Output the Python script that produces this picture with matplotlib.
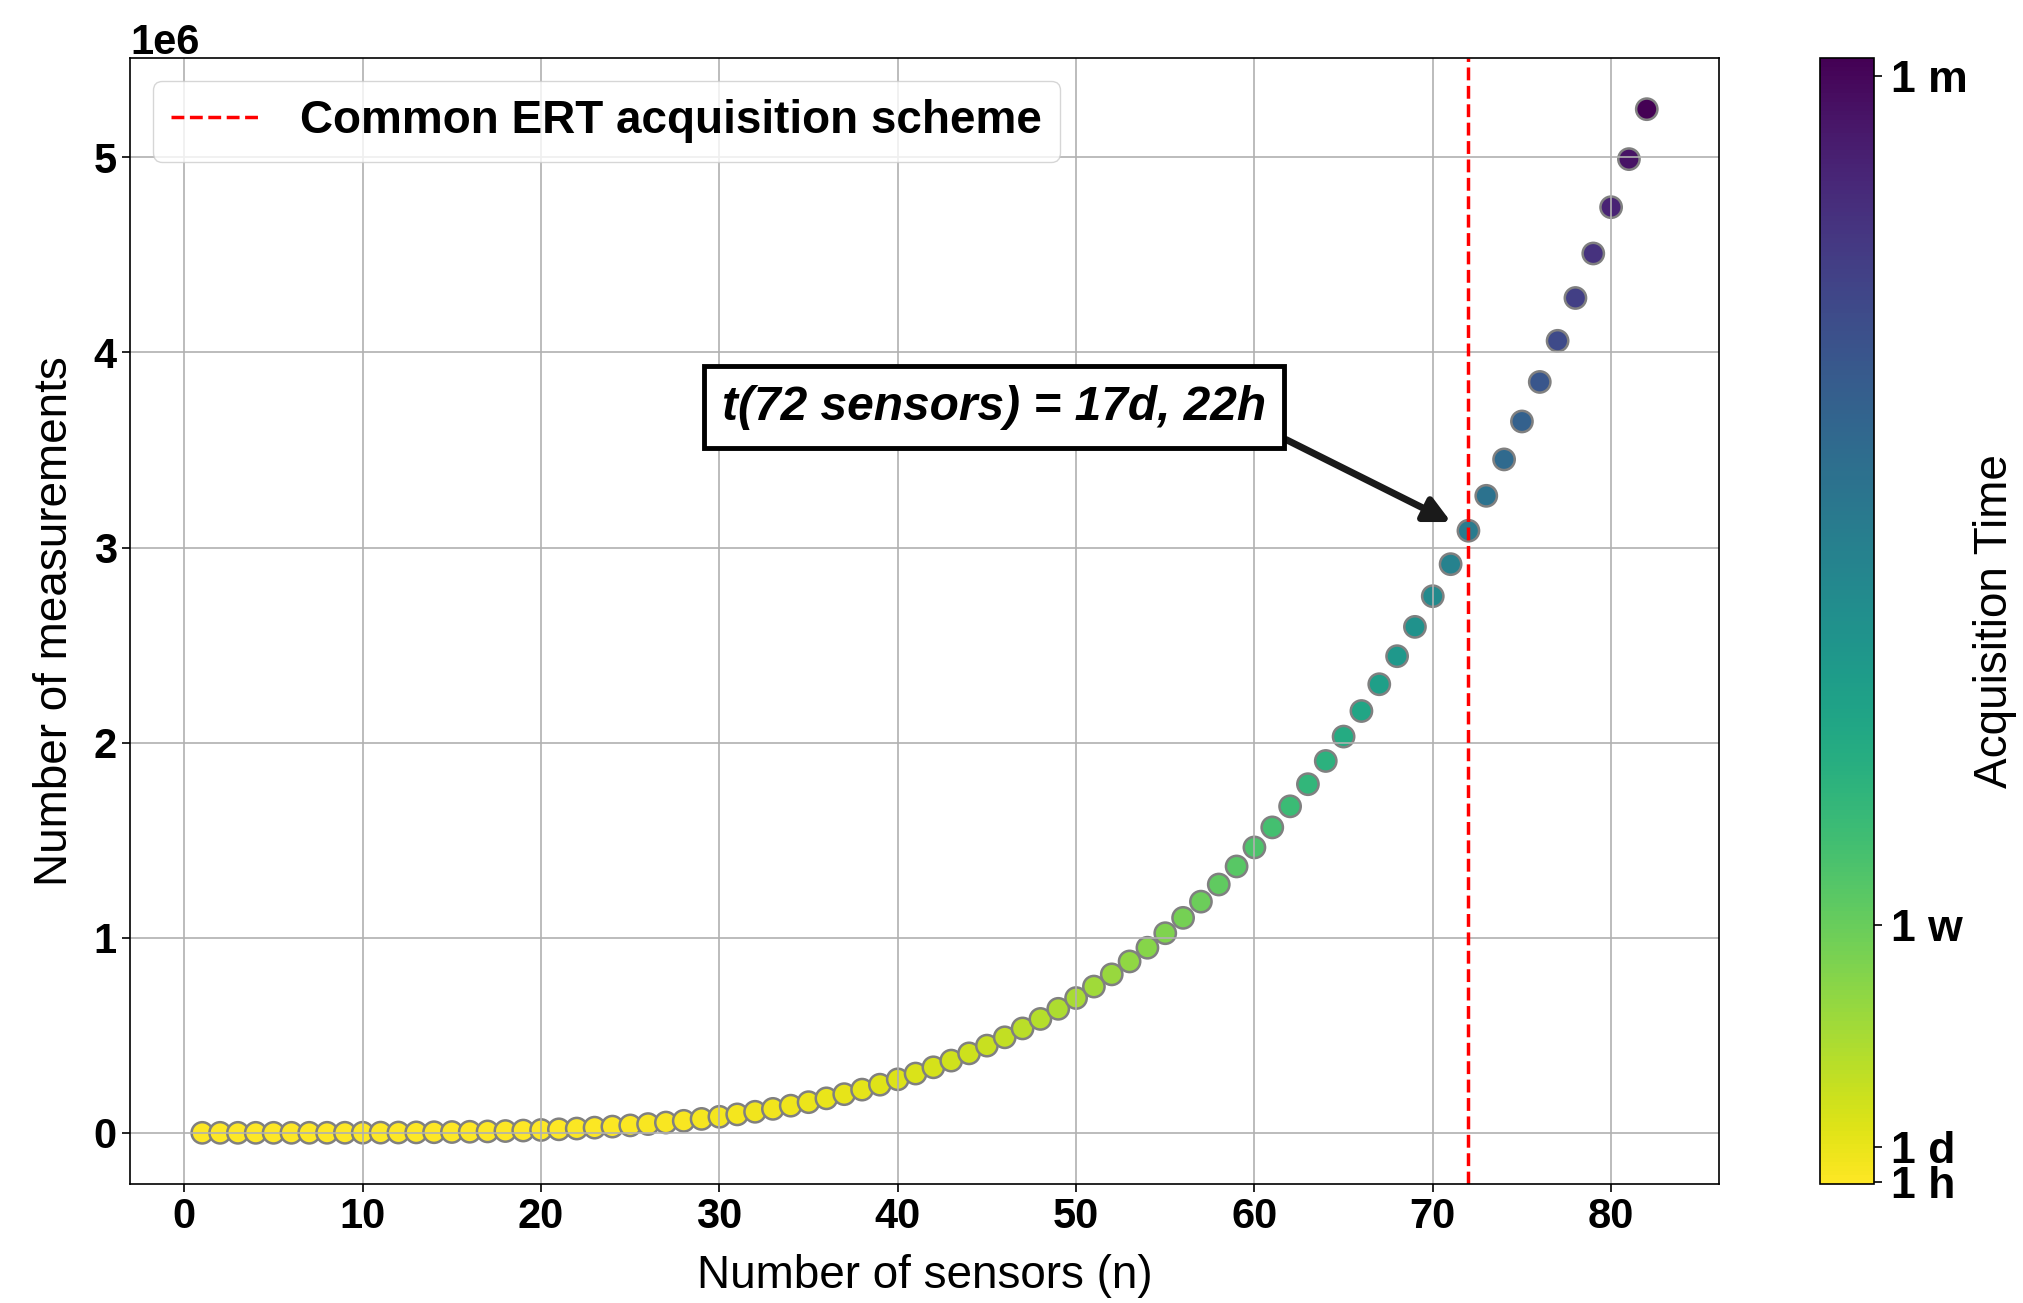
import matplotlib
matplotlib.use("Agg")
import matplotlib.pyplot as plt
import numpy as np

plt.rcParams['font.family'] = ['Liberation Sans', 'DejaVu Sans']

# ---- data ----
sensors = [1, 2, 3, 4, 5, 6, 7, 8, 9, 10, 11, 12, 13, 14, 15, 16, 17, 18, 19, 20,
           21, 22, 23, 24, 25, 26, 27, 28, 29, 30, 31, 32, 33, 34, 35, 36, 37, 38, 39, 40,
           41, 42, 43, 44, 45, 46, 47, 48, 49, 50, 51, 52, 53, 54, 55, 56, 57, 58, 59, 60,
           61, 62, 63, 64, 65, 66, 67, 68, 69, 70, 71, 72, 73, 74, 75, 76, 77, 78, 79, 80,
           81, 82]
measurements = [0, 0, 0, 3, 15, 45, 105, 210, 378, 630,
                990, 1485, 2145, 3003, 4095, 5460, 7140, 9180, 11628, 14535,
                17955, 21945, 26565, 31878, 37950, 44850, 52650, 61425, 71253, 82215,
                94395, 107880, 122760, 139128, 157080, 176715, 198135, 221445, 246753, 274170,
                303810, 335790, 370230, 407253, 446985, 489555, 535095, 583740, 635628, 690900,
                749700, 812175, 878475, 948753, 1023165, 1101870, 1185030, 1272810, 1365378, 1462905,
                1565565, 1673535, 1786995, 1906128, 2031120, 2162160, 2299440, 2443155, 2593503, 2750685,
                2914905, 3086370, 3265290, 3451878, 3646350, 3848925, 4059825, 4279275, 4507503, 4744740,
                4991220, 5247180]
seconds_per_measurement = 0.502
common_scheme = 72
annotation_text = "t(72 sensors) = 17d, 22h"
legend_label = "Common ERT acquisition scheme"
cbar_tick_values = [3600, 86400, 604800, 2592000]   # seconds
cbar_tick_labels = ['1 h', '1 d', '1 w', '1 m']

acq_time = np.array(measurements) * seconds_per_measurement

# ---- figure ----
W, H = 2024, 1303
fig = plt.figure(figsize=(W / 100, H / 100), dpi=100)
ax = fig.add_axes([130 / W, 1 - 1184 / H, (1719 - 130) / W, (1184 - 58) / H])
cax = fig.add_axes([1820 / W, 1 - 1184 / H, 54 / W, (1184 - 58) / H])

sc = ax.scatter(sensors, measurements, c=acq_time, cmap='viridis_r',
                vmin=0, vmax=acq_time.max(), s=235,
                edgecolors='grey', linewidths=1.8)

ax.axvline(common_scheme, color='red', linestyle='--', linewidth=2.5,
           label=legend_label)

ax.grid(True, color='#b0b0b0', linewidth=1.2)

tick_fs = 30
ax.tick_params(labelsize=tick_fs, width=1.2, length=6)
for lab in ax.get_xticklabels() + ax.get_yticklabels():
    lab.set_fontweight('bold')
ax.xaxis.set_major_locator(matplotlib.ticker.MultipleLocator(10))
ax.yaxis.get_offset_text().set_fontsize(tick_fs)
ax.yaxis.get_offset_text().set_fontweight('bold')
for sp in ax.spines.values():
    sp.set_linewidth(1.2)

ax.set_xlabel("Number of sensors (n)", fontsize=33, labelpad=12)
ax.set_ylabel("Number of measurements", fontsize=33, labelpad=12)

leg = ax.legend(loc='upper left', prop={'size': 33, 'weight': 'bold'})

idx = sensors.index(common_scheme)
ax.annotate(annotation_text,
            xy=(sensors[idx], measurements[idx]),
            xytext=(45.4, 3.72e6), textcoords='data',
            ha='center', va='center',
            fontsize=34.5, fontweight='bold', fontstyle='italic',
            bbox=dict(boxstyle='square,pad=0.38', fc='white', ec='black', lw=3.5),
            arrowprops=dict(arrowstyle='-|>', color='#1a1a1a', lw=5,
                            mutation_scale=38, relpos=(1, 0),
                            shrinkA=0, shrinkB=14))

cbar = fig.colorbar(sc, cax=cax)
cbar.set_ticks(cbar_tick_values)
cbar.set_ticklabels(cbar_tick_labels)
cbar.ax.tick_params(labelsize=32, width=1.2, length=6, pad=6)
for lab in cbar.ax.get_yticklabels():
    lab.set_fontweight('bold')
cbar.outline.set_linewidth(1.2)
cbar.set_label("Acquisition Time", fontsize=33, labelpad=4)

fig.savefig("out.png", dpi=100)
